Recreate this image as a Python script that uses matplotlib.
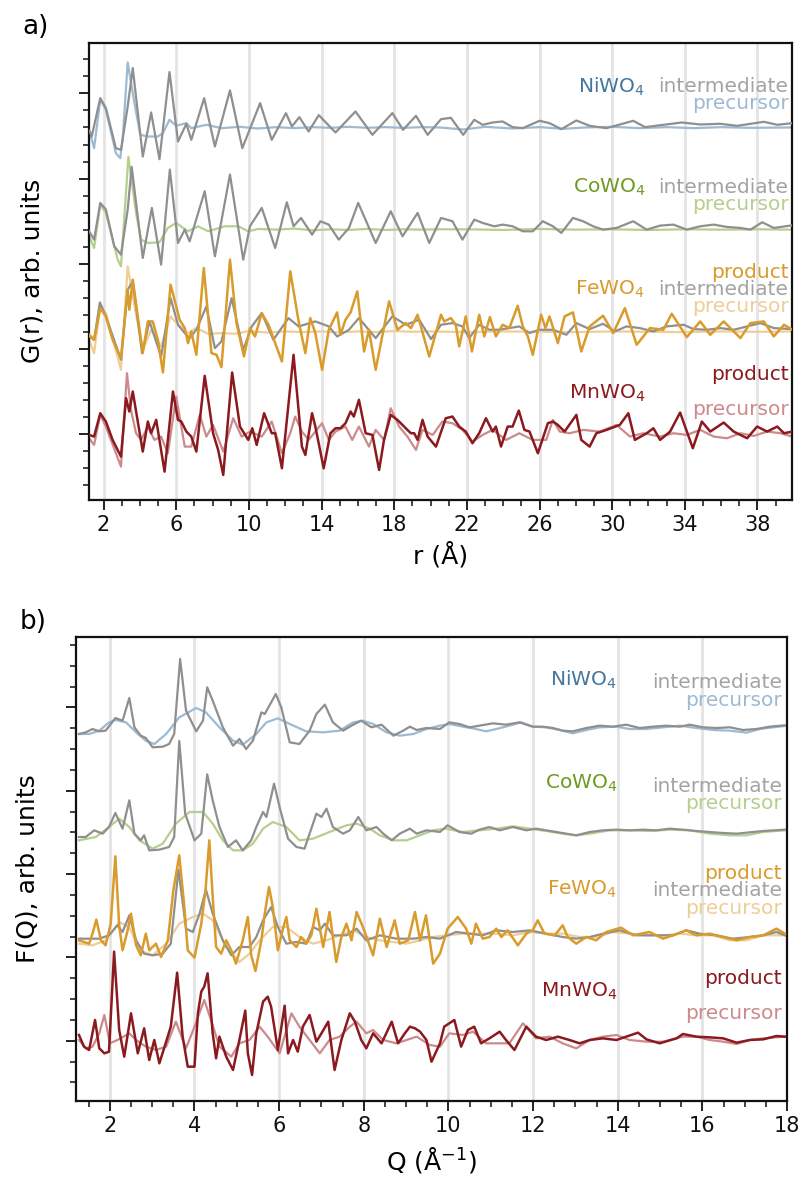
import matplotlib
matplotlib.use("Agg")
import matplotlib.pyplot as plt
from matplotlib.ticker import MultipleLocator, FixedLocator
import matplotlib.transforms as mtransforms

# ---------------- data: panel a, G(r) (r in Å, G in arb. units) ----------------
A_NI_INT = [(1.21,-9),(1.35,-27),(1.82,88),(2.13,58),(2.68,-62),(2.96,-67),(3.33,63),(3.61,178),(4.16,-87),(4.62,45),(5.08,-95),(5.63,166),(6.10,-42),(6.56,11),(6.83,-37),(7.54,88),(8.13,-57),(8.96,111),(9.64,-62),(10.62,73),(11.26,-37),(12.04,43),(12.37,3),(12.78,31),(13.29,-12),(13.85,37),(14.77,-15),(15.87,48),(16.80,-22),(17.90,43),(18.49,-7),(19.20,35),(19.84,-22),(20.58,25),(21.12,29),(21.80,-22),(22.41,23),(22.87,8),(23.42,15),(23.97,18),(24.52,1),(25.08,-2),(26.00,20),(26.55,13),(27.20,-5),(28.03,21),(28.76,5),(29.69,-2),(31.16,20),(31.81,1),(32.82,8),(33.83,15),(34.85,9),(35.95,11),(36.88,5),(38.35,17),(39.09,8),(39.92,13)]
A_NI_PRE = [(1.21,-7),(1.48,-62),(1.82,83),(2.13,53),(2.68,-77),(2.92,-92),(3.05,-37),(3.33,195),(3.70,73),(4.03,-22),(4.44,-27),(4.99,-27),(5.27,-17),(5.63,23),(6.00,5),(6.56,13),(6.83,-2),(7.66,8),(8.49,-2),(9.5,2),(10.5,-3),(11.5,1),(12.5,-2),(13.5,1),(14.5,-1),(15.5,2),(16.5,-1),(17.5,1),(18.5,-1),(19.5,1),(20.5,0),(21.8,-6),(23.0,2),(24.5,-3),(26.0,1),(27.3,-4),(28.5,0),(30.0,2),(31.5,-2),(33.0,1),(34.5,-2),(36.0,1),(37.5,-1),(39.9,0)]
A_CO_INT = [(1.21,-5),(1.48,-30),(1.82,80),(2.13,60),(2.59,-50),(2.96,-75),(3.33,60),(3.55,188),(4.16,-85),(4.66,65),(5.17,-105),(5.65,180),(6.10,-40),(6.47,0),(6.74,-35),(7.57,115),(8.13,-80),(8.96,165),(9.69,-90),(10.06,10),(10.71,65),(11.45,-55),(12.09,82),(12.46,10),(12.87,35),(13.48,-15),(13.94,25),(14.40,15),(14.95,-30),(15.51,5),(16.02,80),(16.98,-40),(17.81,55),(18.46,-20),(19.29,50),(19.93,-40),(20.58,35),(21.21,25),(21.76,-30),(22.41,30),(22.87,20),(23.51,10),(23.97,15),(24.52,10),(25.08,-5),(25.63,-5),(26.18,25),(26.74,10),(27.20,-10),(27.84,35),(28.40,25),(28.95,10),(29.50,0),(30.24,5),(31.16,25),(31.90,0),(32.64,12),(33.37,15),(34.11,0),(34.85,10),(35.59,15),(36.32,8),(37.06,5),(37.61,0),(38.26,22),(38.90,5),(39.92,13)]
A_CO_PRE = [(1.21,-20),(1.48,-55),(1.82,75),(2.13,50),(2.78,-90),(2.96,-110),(3.37,218),(3.79,50),(4.07,-30),(4.44,-40),(5.08,-38),(5.54,5),(6.00,20),(6.65,-5),(7.20,10),(7.76,-5),(8.68,10),(9.42,10),(9.97,-5),(10.5,2),(11.5,0),(12.5,3),(13.5,-2),(14.5,1),(15.5,-1),(16.5,2),(17.5,-1),(18.5,1),(19.5,0),(20.5,1),(22.0,1),(24.0,-1),(26.0,2),(28.0,0),(30.0,1),(32.0,-1),(34.0,1),(36.0,0),(38.0,1),(39.9,0)]
A_FE_PROD = [(1.21,-9),(1.48,-24),(1.82,71),(2.13,46),(2.50,-24),(2.96,-79),(3.33,126),(3.42,66),(3.61,156),(4.16,-64),(4.44,31),(4.71,31),(4.99,-24),(5.27,-122),(5.69,141),(6.19,36),(6.47,11),(6.65,-34),(6.83,1),(7.11,-69),(7.52,191),(7.94,-64),(8.22,-69),(8.49,-106),(8.96,216),(9.32,26),(9.73,-74),(10.06,11),(10.34,-14),(10.71,56),(11.08,21),(11.45,-34),(11.82,-89),(12.28,181),(12.74,31),(13.11,-64),(13.38,41),(13.66,-4),(14.03,-114),(14.40,6),(14.86,58),(15.04,-9),(15.32,36),(15.60,58),(15.97,121),(16.34,-59),(16.61,6),(16.98,-114),(17.72,91),(18.18,6),(18.64,26),(18.92,11),(19.29,51),(19.93,-74),(20.58,51),(20.75,31),(21.12,41),(21.39,21),(21.58,-44),(21.94,46),(22.28,-59),(22.68,51),(22.96,-14),(23.27,44),(23.60,-14),(23.97,21),(24.34,11),(24.80,78),(25.08,16),(25.36,-14),(25.63,-69),(26.09,51),(26.33,11),(26.55,46),(27.01,-34),(27.38,46),(27.84,58),(28.30,-59),(28.76,16),(29.50,48),(30.06,-4),(30.70,71),(31.35,-39),(32.08,11),(32.82,6),(33.28,54),(34.11,-16),(34.85,31),(35.40,-9),(36.14,31),(37.06,-19),(37.61,26),(38.35,31),(38.90,-14),(39.46,21),(39.92,6)]
A_FE_INT = [(1.21,-14),(1.48,-24),(1.80,88),(2.13,46),(2.96,-84),(3.33,126),(3.61,151),(4.12,-64),(4.53,31),(5.17,-74),(5.69,101),(6.10,21),(6.47,-4),(6.74,-19),(7.11,6),(7.66,76),(8.13,-49),(8.49,-29),(9.05,101),(9.69,-54),(10.16,16),(10.71,56),(11.35,-24),(12.18,41),(12.74,16),(13.66,31),(14.40,16),(14.86,-14),(15.51,6),(16.06,41),(16.98,-19),(17.90,46),(18.64,21),(19.38,36),(20.03,-22),(20.58,21),(21.21,26),(21.76,16),(22.13,-19),(22.68,21),(23.24,6),(23.79,6),(24.34,11),(24.89,16),(25.45,-4),(26.00,6),(26.74,6),(27.48,-9),(28.03,26),(28.76,8),(29.50,24),(30.15,1),(30.79,16),(31.53,11),(32.27,1),(33.00,16),(33.93,21),(34.48,8),(35.22,6),(35.95,11),(36.69,6),(37.43,16),(38.16,26),(38.90,11),(39.92,8)]
A_FE_PRE = [(1.21,-24),(1.48,-64),(1.82,76),(2.13,56),(2.96,-114),(3.33,196),(3.61,106),(4.16,-54),(4.62,6),(5.17,-44),(5.69,46),(6.10,21),(6.65,-4),(7.11,11),(7.76,-6),(8.49,-4),(9.23,-6),(10,2),(11,-2),(12,1),(13,-1),(14,1),(15,-2),(16,1),(17,-1),(18,2),(19,0),(20,1),(22,-1),(24,1),(26,0),(28,-1),(30,1),(32,0),(34,-1),(36,1),(38,0),(39.9,1)]
A_MN_PROD = [(1.21,-3),(1.48,-8),(1.82,62),(2.13,37),(2.50,-18),(2.96,-68),(3.24,107),(3.42,67),(3.61,127),(4.16,-53),(4.44,37),(4.62,2),(4.90,42),(5.36,-113),(5.82,127),(6.10,42),(6.28,37),(6.56,7),(6.83,-8),(7.11,-53),(7.57,174),(8.03,2),(8.31,-48),(8.59,-123),(9.08,184),(9.51,22),(9.97,-18),(10.19,17),(10.43,-33),(10.84,62),(11.26,2),(11.45,2),(11.82,-103),(12.46,237),(12.92,-38),(13.11,-63),(13.48,62),(13.66,22),(14.12,-103),(14.49,2),(14.77,17),(15.04,17),(15.32,32),(15.60,67),(15.78,52),(16.06,102),(16.43,2),(16.80,-3),(17.17,-108),(17.44,-18),(17.81,57),(18.18,42),(18.73,12),(18.92,2),(19.10,2),(19.29,-18),(19.56,42),(19.84,-8),(20.30,-38),(20.84,47),(21.21,52),(21.58,22),(21.94,7),(22.31,-28),(22.68,2),(23.05,47),(23.42,7),(23.60,22),(23.88,-38),(24.25,22),(24.52,22),(24.86,70),(25.17,12),(25.45,7),(25.91,-58),(26.46,32),(26.74,37),(27.01,27),(27.38,7),(28.03,57),(28.30,-18),(28.76,-38),(29.13,2),(29.69,12),(30.42,27),(30.89,62),(31.25,-18),(31.90,2),(32.27,17),(32.64,-18),(33.19,7),(33.74,64),(34.44,-43),(34.94,37),(35.40,7),(36.14,34),(36.69,7),(37.43,-13),(37.98,22),(38.53,7),(39.09,22),(39.46,2),(39.92,7)]
A_MN_PRE = [(1.21,-13),(1.48,-33),(1.82,57),(2.13,22),(2.96,-98),(3.29,182),(3.51,72),(3.79,2),(4.07,-18),(4.44,22),(4.80,-18),(5.17,-8),(5.54,-58),(6.00,112),(6.47,-38),(6.83,-38),(7.30,57),(7.66,-8),(8.03,27),(8.59,-53),(9.14,47),(9.60,-8),(10.06,7),(10.71,-8),(11.26,37),(11.82,-58),(12.28,2),(12.55,52),(12.92,7),(13.29,-18),(13.66,7),(14.03,32),(14.40,-18),(14.77,7),(15.32,22),(15.69,-18),(16.06,22),(16.61,-38),(16.98,12),(17.44,-18),(17.81,77),(18.27,22),(18.73,-8),(19.20,-48),(19.56,12),(20.12,-3),(20.65,37),(21.21,32),(21.76,12),(22.31,-23),(22.87,-3),(23.42,12),(24.16,-18),(24.89,2),(25.63,-18),(26.37,-18),(26.74,42),(27.11,7),(27.66,2),(28.40,12),(29.32,7),(30.24,27),(30.98,-8),(31.71,2),(32.64,-8),(33.37,2),(34.11,-3),(34.85,12),(35.59,-8),(36.32,-13),(37.06,2),(37.80,-6),(38.53,7),(39.27,2),(39.92,-8)]

# ---------------- data: panel b, F(Q) (Q in 1/Å, F in arb. units) ----------------
B_NI_INT = [(1.27,-24),(1.43,-19),(1.59,-9),(1.75,-16),(1.90,-14),(2.13,24),(2.30,16),(2.46,84),(2.58,-4),(2.73,-29),(2.85,-36),(3.01,-64),(3.25,-62),(3.40,-54),(3.52,-24),(3.66,201),(3.80,46),(4.04,-16),(4.20,16),(4.30,116),(4.43,76),(4.67,-4),(4.91,-59),(5.06,-39),(5.22,-69),(5.38,-44),(5.58,41),(5.66,36),(5.92,96),(6.05,56),(6.25,-49),(6.48,-54),(6.72,-14),(6.88,36),(7.08,64),(7.27,11),(7.51,-14),(7.75,4),(7.94,16),(8.18,-4),(8.42,4),(8.70,-29),(8.93,-14),(9.09,-2),(9.25,-12),(9.48,-6),(9.80,-9),(10.02,11),(10.26,6),(10.50,-4),(10.73,1),(11.05,8),(11.36,4),(11.68,11),(11.99,-2),(12.23,-2),(12.47,-6),(12.70,-14),(12.94,-16),(13.26,-6),(13.57,1),(13.89,-2),(14.20,4),(14.52,-6),(14.83,-2),(15.15,1),(15.47,-2),(15.70,4),(16.02,-4),(16.33,-6),(16.65,-4),(16.96,-12),(17.28,-9),(17.59,-2),(17.95,2)]
B_NI_PRE = [(1.27,-24),(1.51,-24),(1.75,-14),(1.98,11),(2.14,18),(2.38,11),(2.62,-19),(2.85,-44),(3.05,-54),(3.33,-24),(3.64,26),(4.04,54),(4.27,41),(4.59,-4),(4.91,-44),(5.14,-56),(5.46,-24),(5.70,11),(5.97,23),(6.25,6),(6.64,-16),(7.04,-19),(7.43,-14),(7.75,11),(7.98,16),(8.22,6),(8.54,-19),(8.85,-29),(9.17,-24),(9.48,-9),(9.80,1),(10.02,6),(10.34,-2),(10.65,-9),(10.89,-16),(11.13,-9),(11.44,1),(11.72,11),(11.99,-2),(12.31,-4),(12.63,-12),(12.94,-22),(13.26,-12),(13.57,-4),(13.97,-2),(14.28,-9),(14.68,-9),(15.07,-4),(15.47,1),(15.86,-6),(16.25,-12),(16.65,-14),(17.04,-20),(17.36,-9),(17.67,-4),(17.95,0)]
B_CO_INT = [(1.27,-21),(1.43,-21),(1.63,-1),(1.83,-11),(1.98,9),(2.13,51),(2.30,4),(2.46,89),(2.58,-11),(2.73,-31),(2.81,-16),(2.93,-61),(3.17,-59),(3.40,-51),(3.52,-21),(3.64,267),(3.78,49),(4.00,-31),(4.16,-11),(4.30,167),(4.43,89),(4.59,9),(4.79,-51),(4.98,-31),(5.14,-61),(5.34,-31),(5.46,9),(5.62,54),(5.70,39),(5.88,139),(6.01,69),(6.21,-26),(6.41,-51),(6.60,-56),(6.80,19),(6.88,49),(7.00,39),(7.12,64),(7.27,9),(7.51,-11),(7.67,-1),(7.87,39),(8.06,-1),(8.30,9),(8.46,-11),(8.66,-31),(8.85,-11),(9.09,4),(9.25,-11),(9.48,-1),(9.80,-6),(9.98,14),(10.26,-6),(10.54,-11),(10.73,1),(10.97,9),(11.21,-1),(11.52,9),(11.84,-1),(12.07,4),(12.31,-1),(12.55,-6),(12.78,-11),(13.02,-16),(13.34,-6),(13.65,-1),(13.97,1),(14.28,-1),(14.60,1),(14.91,-1),(15.23,4),(15.54,1),(15.86,-3),(16.17,-6),(16.49,-9),(16.81,-11),(17.12,-7),(17.44,-3),(17.95,1)]
B_CO_PRE = [(1.27,-31),(1.67,-21),(1.98,9),(2.22,34),(2.46,9),(2.70,-31),(3.01,-56),(3.25,-41),(3.56,19),(3.88,54),(4.20,54),(4.43,19),(4.67,-31),(4.91,-61),(5.14,-61),(5.38,-41),(5.62,4),(5.85,24),(6.17,9),(6.48,-31),(6.80,-26),(7.19,-6),(7.59,14),(7.83,19),(8.14,4),(8.38,-16),(8.70,-31),(9.01,-31),(9.33,-16),(9.64,-1),(9.94,4),(10.34,-6),(10.73,-1),(11.13,4),(11.52,11),(11.92,4),(12.31,-3),(12.70,-11),(13.02,-16),(13.34,-11),(13.81,-1),(14.28,-1),(14.75,-3),(15.23,1),(15.70,-1),(16.17,-11),(16.65,-16),(17.04,-16),(17.44,-6),(17.95,-1)]
B_FE_PROD = [(1.27,-19),(1.39,-24),(1.51,-29),(1.59,1),(1.68,43),(1.79,-19),(1.90,-34),(2.02,31),(2.13,233),(2.22,26),(2.30,-49),(2.42,11),(2.50,61),(2.62,-34),(2.73,-64),(2.85,1),(2.93,-49),(3.09,-29),(3.21,-69),(3.37,-19),(3.50,131),(3.64,236),(3.76,81),(3.84,-49),(4.00,-71),(4.16,31),(4.26,131),(4.35,281),(4.43,111),(4.51,-39),(4.63,-59),(4.75,-19),(4.87,-49),(4.98,-89),(5.14,-19),(5.26,51),(5.34,-64),(5.44,-111),(5.58,-19),(5.66,61),(5.76,141),(5.85,81),(5.97,-49),(6.09,16),(6.17,51),(6.25,-19),(6.41,-39),(6.52,-9),(6.64,-29),(6.76,-4),(6.88,76),(7.04,-39),(7.19,66),(7.35,-84),(7.47,-9),(7.59,31),(7.71,-19),(7.83,66),(7.98,21),(8.22,-64),(8.38,46),(8.54,-39),(8.73,41),(8.85,-29),(9.05,-19),(9.21,66),(9.33,-19),(9.47,56),(9.64,-89),(9.80,-59),(9.98,16),(10.22,51),(10.42,16),(10.54,-29),(10.65,31),(10.81,-14),(10.97,-9),(11.13,16),(11.25,-9),(11.40,11),(11.64,-34),(11.84,1),(11.99,11),(12.11,41),(12.27,1),(12.51,-4),(12.70,26),(12.82,-9),(13.02,-29),(13.26,-9),(13.49,-19),(13.73,6),(14.08,19),(14.36,-4),(14.75,6),(15.07,-14),(15.31,-4),(15.62,11),(15.86,-4),(16.17,1),(16.49,-9),(16.81,-19),(17.12,-9),(17.44,-4),(17.75,16),(17.95,1)]
B_FE_INT = [(1.27,-14),(1.51,-14),(1.75,-14),(1.98,-4),(2.18,26),(2.30,6),(2.46,56),(2.62,-19),(2.81,-59),(3.01,-64),(3.25,-59),(3.44,-29),(3.62,193),(3.80,16),(3.96,6),(4.12,61),(4.27,133),(4.43,61),(4.67,-19),(4.87,-64),(5.06,-39),(5.30,-39),(5.46,-9),(5.62,41),(5.81,81),(5.97,21),(6.17,-29),(6.41,-24),(6.64,-29),(6.80,21),(6.96,11),(7.08,31),(7.27,-4),(7.59,-4),(7.83,16),(8.06,-19),(8.38,-4),(8.77,-14),(9.17,-14),(9.48,-9),(9.80,-14),(10.18,6),(10.50,1),(10.81,-4),(11.13,11),(11.52,6),(11.92,11),(12.31,1),(12.70,-9),(13.02,-14),(13.34,-9),(13.65,1),(14.05,11),(14.44,-4),(14.91,-4),(15.31,-4),(15.62,11),(15.94,1),(16.33,-4),(16.72,-14),(17.12,-9),(17.44,-4),(17.75,6),(17.95,-4)]
B_FE_PRE = [(1.27,-29),(1.59,-34),(1.90,-19),(2.22,36),(2.46,21),(2.70,-49),(3.01,-64),(3.33,-29),(3.64,31),(3.96,51),(4.20,61),(4.43,41),(4.75,-39),(5.06,-84),(5.30,-59),(5.54,-19),(5.85,21),(6.17,21),(6.48,-9),(6.80,-29),(7.12,-19),(7.43,-4),(7.75,11),(8.06,-9),(8.38,-19),(8.70,-24),(9.01,-29),(9.33,-19),(9.64,-9),(9.94,-4),(10.34,1),(10.73,1),(11.13,1),(11.52,-4),(11.92,6),(12.31,1),(12.70,1),(13.10,-9),(13.49,-9),(13.89,6),(14.28,1),(14.68,-4),(15.07,-4),(15.47,1),(15.86,-4),(16.25,-4),(16.65,-19),(17.04,-19),(17.44,-4),(17.95,-4)]
B_MN_PROD = [(1.27,9),(1.39,-26),(1.51,-36),(1.65,54),(1.75,-31),(1.87,-46),(1.98,-41),(2.10,259),(2.22,24),(2.34,-56),(2.50,74),(2.66,-46),(2.81,29),(2.93,-66),(3.05,-6),(3.17,-76),(3.33,-11),(3.44,34),(3.59,196),(3.72,4),(3.84,-86),(4.00,-86),(4.08,74),(4.16,139),(4.23,154),(4.31,194),(4.43,14),(4.51,-61),(4.59,4),(4.75,-56),(4.91,-96),(5.06,-6),(5.20,82),(5.26,-46),(5.36,-111),(5.46,14),(5.62,109),(5.73,124),(5.81,94),(5.97,-36),(6.13,97),(6.21,-46),(6.33,-6),(6.44,-41),(6.56,34),(6.72,69),(6.88,-11),(7.00,14),(7.16,49),(7.31,-96),(7.47,-6),(7.67,74),(7.79,49),(7.94,-6),(8.06,-31),(8.22,14),(8.42,-16),(8.66,49),(8.81,-16),(8.97,14),(9.09,34),(9.21,29),(9.33,19),(9.48,-6),(9.60,-71),(9.80,-16),(9.90,34),(10.14,54),(10.30,-26),(10.46,24),(10.61,34),(10.77,-16),(10.97,-1),(11.21,19),(11.36,-6),(11.56,-36),(11.84,34),(12.07,4),(12.31,-6),(12.59,4),(12.86,-6),(13.10,-16),(13.34,-6),(13.65,-1),(13.97,-6),(14.20,4),(14.48,16),(14.68,-4),(14.99,-16),(15.39,-1),(15.54,12),(15.86,4),(16.17,2),(16.49,-1),(16.81,-14),(17.12,-6),(17.44,-4),(17.75,6),(17.95,4)]
B_MN_PRE = [(1.27,-6),(1.43,-31),(1.59,-26),(1.75,14),(1.87,69),(2.00,-16),(2.18,-6),(2.46,14),(2.62,-6),(2.85,-26),(3.09,-36),(3.33,-26),(3.56,49),(3.80,-31),(4.00,34),(4.23,114),(4.39,54),(4.59,-26),(4.87,-56),(5.06,-16),(5.30,-6),(5.54,34),(5.73,4),(6.01,-46),(6.29,74),(6.48,34),(6.72,-6),(6.96,-46),(7.19,-6),(7.43,4),(7.67,34),(7.83,49),(8.06,14),(8.22,24),(8.46,-6),(8.77,-16),(9.01,-6),(9.25,4),(9.56,-21),(9.80,-26),(10.02,14),(10.34,9),(10.58,19),(10.89,-16),(11.21,-16),(11.44,-16),(11.76,44),(12.07,-1),(12.39,4),(12.70,-16),(13.02,-31),(13.34,-6),(13.65,4),(13.97,9),(14.28,-6),(14.68,-11),(15.07,-11),(15.54,4),(15.86,4),(16.17,-6),(16.49,-11),(16.81,-18),(17.12,-6),(17.44,-1),(17.95,4)]

COMPOUNDS = ["MnWO$_4$", "FeWO$_4$", "CoWO$_4$", "NiWO$_4$"]

# ---------------- styles ----------------
C_GREY = "#8f8f8f"
C_GREY_TXT = "#a3a3a3"
STYLE = {
    "Ni": dict(main="#44779f", pre="#9dbad3"),
    "Co": dict(main="#6e9a22", pre="#b5cf8d"),
    "Fe": dict(main="#d99b2c", pre="#efce96"),
    "Mn": dict(main="#8b1a1f", pre="#cc8a8c"),
}

fig = plt.figure(figsize=(8.04, 11.77), dpi=100)
axA = fig.add_axes([89/804, 1-500/1177, (792-89)/804, (500-42.7)/1177])
axB = fig.add_axes([76/804, 1-1101/1177, (787-76)/804, (1101-637)/1177])


def draw(ax, off, pre, inter, prod, key, lw=1.6):
    st = STYLE[key]
    for data, col, w, z in ((pre, st["pre"], lw, 2), (inter, C_GREY, lw, 3), (prod, st["main"], lw + 0.2, 4)):
        if data is None:
            continue
        xs = [p[0] for p in data]
        ys = [p[1] + off for p in data]
        ax.plot(xs, ys, color=col, lw=w, zorder=z, solid_joinstyle="round")


offA = {"Mn": 0, "Fe": 306, "Co": 612, "Ni": 918}
draw(axA, offA["Ni"], A_NI_PRE, A_NI_INT, None, "Ni")
draw(axA, offA["Co"], A_CO_PRE, A_CO_INT, None, "Co")
draw(axA, offA["Fe"], A_FE_PRE, A_FE_INT, A_FE_PROD, "Fe")
draw(axA, offA["Mn"], A_MN_PRE, None, A_MN_PROD, "Mn")

offB = {"Mn": 0, "Fe": 312, "Co": 624, "Ni": 936}
draw(axB, offB["Ni"], B_NI_PRE, B_NI_INT, None, "Ni")
draw(axB, offB["Co"], B_CO_PRE, B_CO_INT, None, "Co")
draw(axB, offB["Fe"], B_FE_PRE, B_FE_INT, B_FE_PROD, "Fe")
draw(axB, offB["Mn"], B_MN_PRE, None, B_MN_PROD, "Mn")

axA.set_xlim(1.2, 39.9)
axA.set_ylim(-198, 1172)
axA.set_xticks([2, 6, 10, 14, 18, 22, 26, 30, 34, 38])
axA.xaxis.set_minor_locator(MultipleLocator(1))
axA.yaxis.set_major_locator(FixedLocator([0, 255, 510, 765, 1020]))
axA.yaxis.set_minor_locator(FixedLocator([-153 + 51 * k for k in range(27)]))

axB.set_xlim(1.2, 18)
axB.set_ylim(-189, 1203)
axB.xaxis.set_major_locator(MultipleLocator(2))
axB.xaxis.set_minor_locator(MultipleLocator(0.5))
axB.yaxis.set_major_locator(FixedLocator([-8, 242, 492, 742, 992]))
axB.yaxis.set_minor_locator(FixedLocator([-133 + 62.5 * k for k in range(22)]))

for ax in (axA, axB):
    ax.grid(axis="x", which="major", color="#e4e4e4", lw=2.0, zorder=0)
    ax.set_axisbelow(True)
    ax.set_yticklabels([])
    ax.tick_params(which="major", direction="out", length=7, width=1.3, labelsize=15, colors="#111111")
    ax.tick_params(which="minor", direction="out", length=4, width=1.1, colors="#111111")
    for s in ax.spines.values():
        s.set_linewidth(1.6)
        s.set_color("#111111")

axA.set_xlabel("r (Å)", fontsize=18)
axA.set_ylabel("G(r), arb. units", fontsize=18)
axA.yaxis.set_label_coords(-0.064, 0.5)
axA.xaxis.set_label_coords(0.5, -0.092)
axB.set_xlabel("Q (Å$^{-1}$)", fontsize=18)
axB.set_ylabel("F(Q), arb. units", fontsize=18)
axB.yaxis.set_label_coords(-0.052, 0.5)
axB.xaxis.set_label_coords(0.5, -0.094)

fig.text(22/804, 1-27/1177, "a)", fontsize=19, va="center", ha="left")
fig.text(20/804, 1-622/1177, "b)", fontsize=19, va="center", ha="left")

FS = 14.5


def labels(ax, xr, xc, items):
    tr = mtransforms.blended_transform_factory(ax.transAxes, ax.transData)
    for txt, y, col, at in items:
        x = xc if at == "c" else xr
        ax.text(x, y, txt, transform=tr, ha="right", va="center", fontsize=FS, color=col)


labels(axA, 0.995, 0.791, [
    (COMPOUNDS[3], 1041, STYLE["Ni"]["main"], "c"), ("intermediate", 1041, C_GREY_TXT, "r"), ("precursor", 989, STYLE["Ni"]["pre"], "r"),
    (COMPOUNDS[2], 738, STYLE["Co"]["main"], "c"), ("intermediate", 738, C_GREY_TXT, "r"), ("precursor", 686, STYLE["Co"]["pre"], "r"),
    ("product", 485, STYLE["Fe"]["main"], "r"), (COMPOUNDS[1], 433, STYLE["Fe"]["main"], "c"), ("intermediate", 433, C_GREY_TXT, "r"), ("precursor", 381, STYLE["Fe"]["pre"], "r"),
    ("product", 177, STYLE["Mn"]["main"], "r"), (COMPOUNDS[0], 123, STYLE["Mn"]["main"], "c"), ("precursor", 72, STYLE["Mn"]["pre"], "r"),
])
labels(axB, 0.9925, 0.761, [
    (COMPOUNDS[3], 1074, STYLE["Ni"]["main"], "c"), ("intermediate", 1066, C_GREY_TXT, "r"), ("precursor", 1014, STYLE["Ni"]["pre"], "r"),
    (COMPOUNDS[2], 764, STYLE["Co"]["main"], "c"), ("intermediate", 756, C_GREY_TXT, "r"), ("precursor", 704, STYLE["Co"]["pre"], "r"),
    ("product", 493, STYLE["Fe"]["main"], "r"), (COMPOUNDS[1], 447, STYLE["Fe"]["main"], "c"), ("intermediate", 441, C_GREY_TXT, "r"), ("precursor", 389, STYLE["Fe"]["pre"], "r"),
    ("product", 179, STYLE["Mn"]["main"], "r"), (COMPOUNDS[0], 139, STYLE["Mn"]["main"], "c"), ("precursor", 74, STYLE["Mn"]["pre"], "r"),
])

fig.savefig("out.png", dpi=100)
